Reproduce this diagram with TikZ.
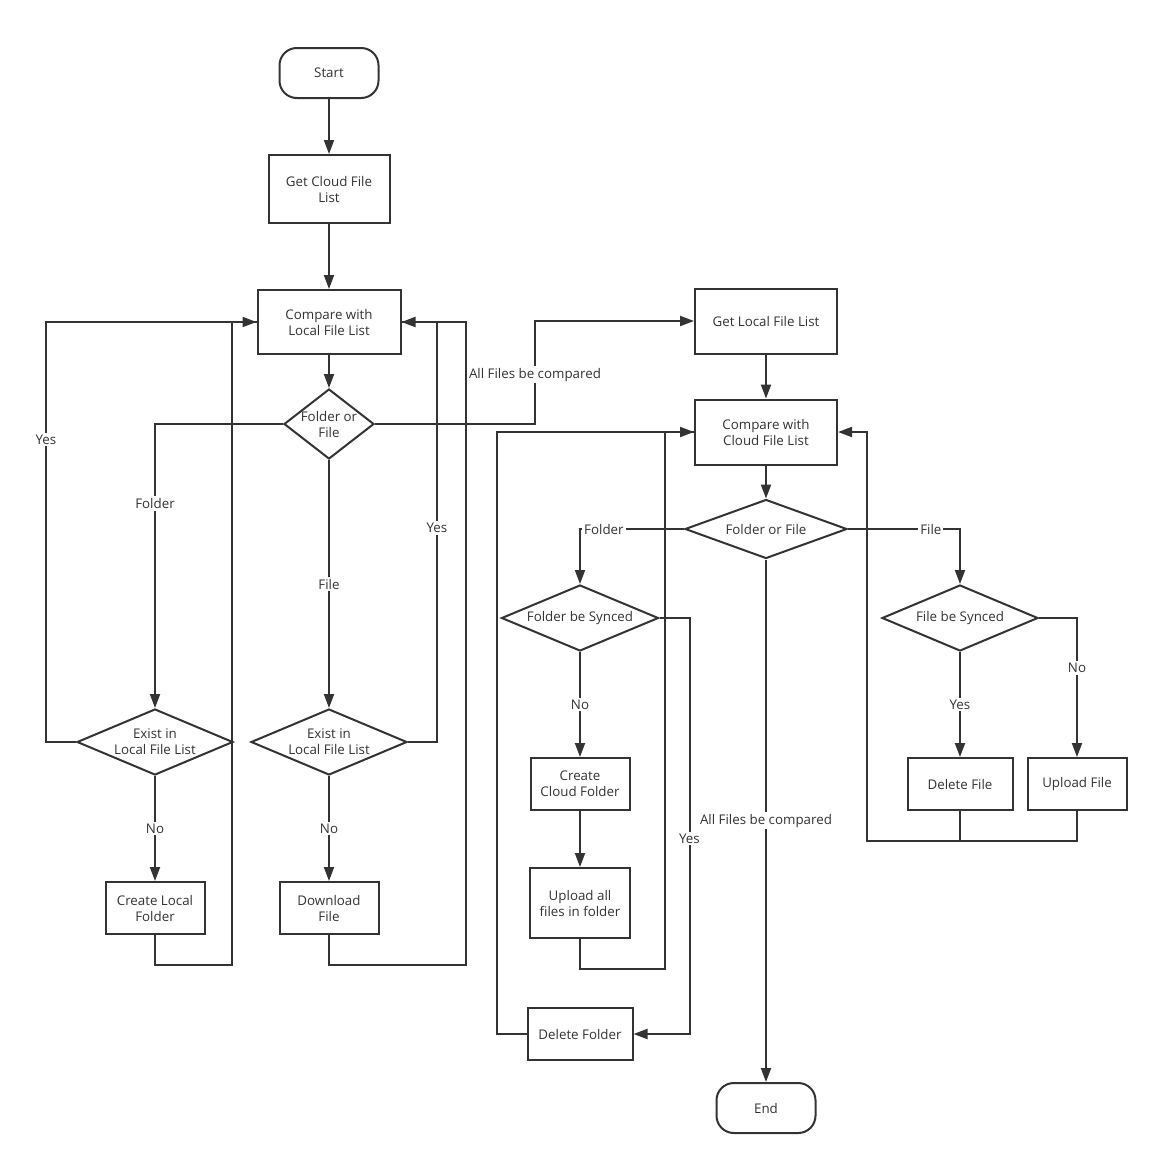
\documentclass[tikz,border=0pt]{standalone}
\usepackage{fontspec}
\setmainfont{Open Sans}
\usetikzlibrary{arrows.meta, shapes.geometric}
\definecolor{ink}{HTML}{333333}
\tikzset{
  base/.style={draw=ink, line width=1.5pt, text=ink, font=\fontsize{10}{12}\selectfont, align=center, inner sep=0pt},
  term/.style={base, rounded corners=13pt, minimum width=74.25pt, minimum height=37.5pt},
  decision/.style={base, diamond, aspect=#1},
  flow/.style={draw=ink, line width=1.5pt, -{Triangle[length=10.5pt, width=7.5pt]}},
  link/.style={draw=ink, line width=1.5pt},
  lbl/.style={fill=white, text=ink, font=\fontsize{10}{12}\selectfont, inner sep=1.5pt}
}

\begin{document}
\begin{tikzpicture}[x=0.75pt, y=-0.75pt]
\useasboundingbox (0,0) rectangle (1159,1165);
% cloud to local
\node[term] (start) at (329,73) {Start};
\node[base, minimum width=90.75pt, minimum height=51pt] (getcloud) at (329,189) {Get Cloud File\\List};
\node[base, minimum width=107.25pt, minimum height=48pt] (cmplocal) at (329,322) {Compare with\\Local File List};
\node[decision=1.29, minimum width=67.5pt, minimum height=52.5pt, inner sep=-1pt] (type1) at (329,424) {Folder or\\File};
\node[decision=2.36, minimum width=117pt, minimum height=49.5pt] (existdir) at (155,742) {Exist in\\Local File List};
\node[decision=2.36, minimum width=117pt, minimum height=49.5pt] (existfile) at (329,742) {Exist in\\Local File List};
\node[base, minimum width=74.25pt, minimum height=39pt] (mkdir) at (155,908) {Create Local\\Folder};
\node[base, minimum width=74.25pt, minimum height=39pt] (download) at (329,908) {Download\\File};
% local to cloud
\node[base, minimum width=106.5pt, minimum height=48.75pt] (getlocal) at (766,321) {Get Local File List};
\node[base, minimum width=106.5pt, minimum height=48.75pt] (cmpcloud) at (766,432) {Compare with\\Cloud File List};
\node[decision=2.75, minimum width=121.5pt, minimum height=44.25pt] (type2) at (766,529) {Folder or File};
\node[decision=2.38, minimum width=117.75pt, minimum height=49.5pt] (dirsync) at (580,618) {Folder be Synced};
\node[base, minimum width=74.25pt, minimum height=39pt] (mkcloud) at (580,784) {Create\\Cloud Folder};
\node[base, minimum width=75pt, minimum height=52.5pt] (uploadall) at (580,903) {Upload all\\files in folder};
\node[base, minimum width=78.75pt, minimum height=39pt] (deldir) at (580,1034) {Delete Folder};
\node[term] (end) at (766,1108) {End};
\node[decision=2.36, minimum width=117pt, minimum height=49.5pt] (filesync) at (960,618) {File be Synced};
\node[base, minimum width=78.75pt, minimum height=39pt] (delfile) at (960,784) {Delete File};
\node[base, minimum width=74.25pt, minimum height=39pt] (upfile) at (1077,784) {Upload File};
% arrows, left part
\draw[flow] (start) -- (getcloud);
\draw[flow] (getcloud) -- (cmplocal);
\draw[flow] (cmplocal) -- (type1);
\draw[flow] (type1.west) -| (existdir.north) node[lbl, pos=0.64] {Folder};
\draw[flow] (type1.south) -- (existfile.north) node[lbl, midway] {File};
\draw[flow] (existdir.west) -- ++(-30,0) |- (cmplocal.west) node[lbl, pos=0.36] {Yes};
\draw[flow] (existfile.east) -- ++(29,0) |- (cmplocal.east) node[lbl, pos=0.255] {Yes};
\draw[flow] (existdir.south) -- (mkdir.north) node[lbl, midway] {No};
\draw[flow] (existfile.south) -- (download.north) node[lbl, midway] {No};
\draw[link] (mkdir.south) -- ++(0,30) -- ++(77,0) |- (cmplocal.west);
\draw[link] (download.south) -- ++(0,30) -- ++(137,0) |- (cmplocal.east);
\draw[flow] (type1.east) -- ++(160,0) |- (getlocal.west) node[lbl, pos=0.24] {All Files be compared};
% arrows, right part
\draw[flow] (getlocal) -- (cmpcloud);
\draw[flow] (cmpcloud) -- (type2);
\draw[flow] (type2.west) -| (dirsync.north) node[lbl, pos=0.385] {Folder};
\draw[flow] (dirsync.south) -- (mkcloud.north) node[lbl, midway] {No};
\draw[flow] (mkcloud) -- (uploadall);
\draw[link] (uploadall.south) -- ++(0,30) -- ++(85,0) |- (cmpcloud.west);
\draw[flow] (deldir.west) -- ++(-30,0) |- (cmpcloud.west);
\draw[flow] (dirsync.east) -- ++(30,0) |- (deldir.east) node[lbl, pos=0.265] {Yes};
\draw[flow] (type2.south) -- (end.north) node[lbl, midway] {All Files be compared};
\draw[flow] (type2.east) -| (filesync.north) node[lbl, pos=0.37] {File};
\draw[flow] (filesync.south) -- (delfile.north) node[lbl, midway] {Yes};
\draw[flow] (filesync.east) -| (upfile.north) node[lbl, pos=0.68] {No};
\draw[link] (delfile.south) -- ++(0,30);
\draw[flow] (upfile.south) -- ++(0,30) -- ++(-210,0) |- (cmpcloud.east);
\end{tikzpicture}
\end{document}
